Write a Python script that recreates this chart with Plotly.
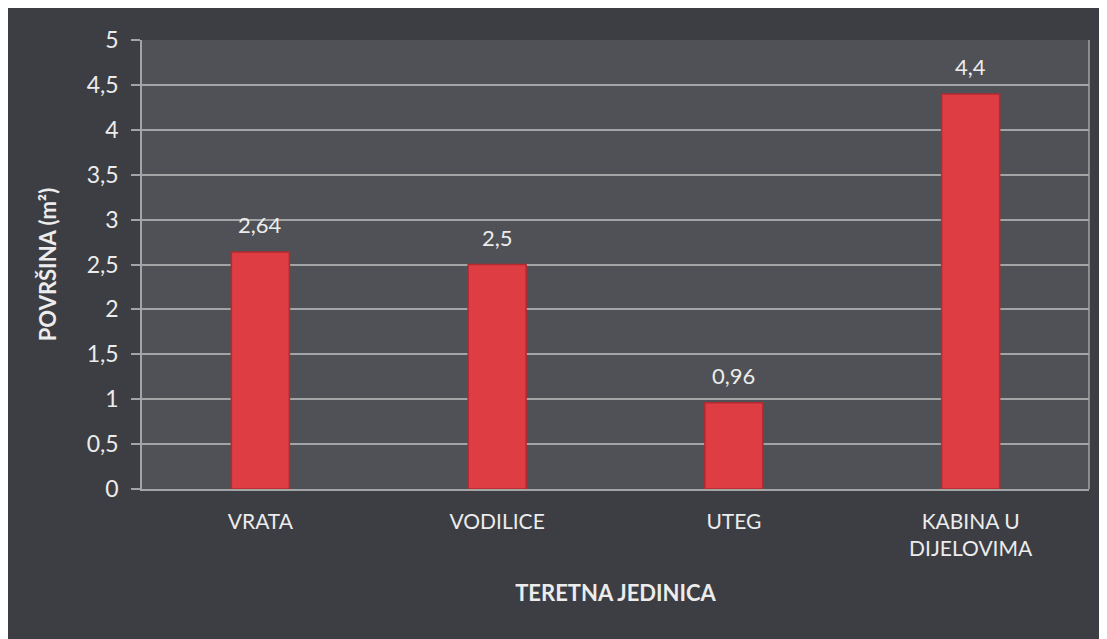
import plotly.graph_objects as go

# Podaci s grafikona
kategorije = ['VRATA', 'VODILICE', 'UTEG', 'KABINA U<br>DIJELOVIMA']
povrsina = [2.64, 2.5, 0.96, 4.4]
oznake = [str(v).replace('.', ',') for v in povrsina]

font_family = 'Lato, "Open Sans", sans-serif'
text_color = '#ececec'
grid_color = '#a3a4a6'

fig = go.Figure()
fig.add_trace(go.Bar(
    x=kategorije,
    y=povrsina,
    marker=dict(color='#dd3d43', line=dict(color='#b32a30', width=1.5)),
    width=0.245,
    hoverinfo='skip'
))

# vrijednosti iznad stupaca
for k, v, t in zip(kategorije, povrsina, oznake):
    fig.add_annotation(x=k, y=v, text=t, showarrow=False, yanchor='bottom', yshift=12,
                       font=dict(size=22, color=text_color, family=font_family))

fig.update_layout(
    width=1107, height=639,
    margin=dict(l=134, r=26, t=32, b=158),
    paper_bgcolor='#3c3e43',
    plot_bgcolor='#4f5156',
    separators=',.',
    showlegend=False,
    font=dict(family=font_family, color=text_color),
    xaxis=dict(
        showgrid=False,
        showline=True, linecolor=grid_color, linewidth=1.5, mirror=False,
        ticks='', ticklabelstandoff=13,
        tickfont=dict(size=21, color=text_color),
        title=dict(text='<b>TERETNA JEDINICA</b>', font=dict(size=22, color=text_color), standoff=26),
    ),
    yaxis=dict(
        range=[0, 5], dtick=0.5,
        showgrid=True, gridcolor=grid_color, gridwidth=1.5,
        zeroline=False,
        showline=True, linecolor=grid_color, linewidth=1.5,
        ticks='outside', ticklen=9, tickcolor=grid_color, tickwidth=1.5,
        ticklabelstandoff=8,
        tickfont=dict(size=23, color=text_color),
        title=dict(text='<b>POVRŠINA (m²)</b>', font=dict(size=22, color=text_color), standoff=24),
    ),
)

# desni rub područja crtanja
fig.add_shape(type='line', xref='paper', yref='paper', x0=1, x1=1, y0=0, y1=1,
              line=dict(color=grid_color, width=1.5))

fig.write_html('out.html')
